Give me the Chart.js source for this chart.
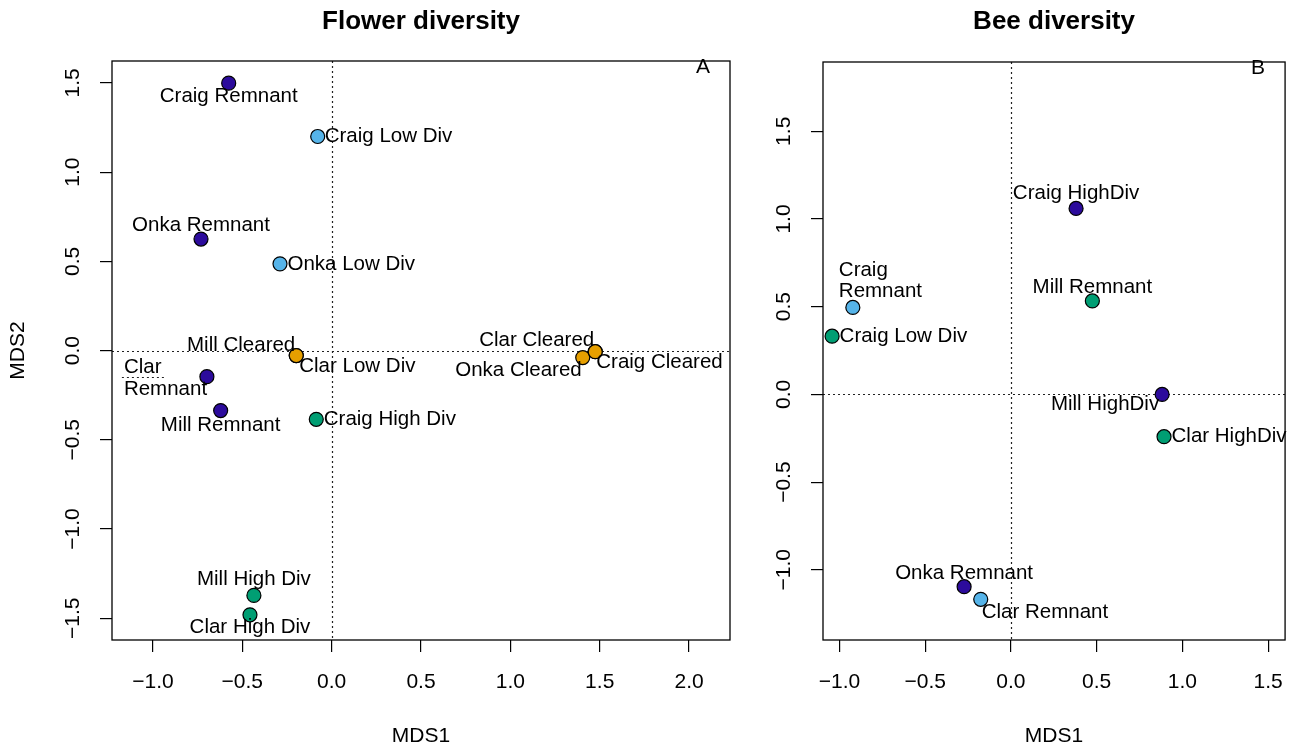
<!DOCTYPE html>
<html lang="en">
<head>
<meta charset="UTF-8">
<title>NMDS ordination: flower and bee diversity</title>
<script src="https://cdn.jsdelivr.net/npm/chart.js@4"></script>
<style>
    html, body {
        margin: 0;
        padding: 0;
        background: #fff;
    }
    #wrap {
        position: relative;
        width: 1301px;
        height: 747px;
    }
    canvas {
        position: absolute;
        top: 0;
    }
    #flower { left: 0; }
    #bee { left: 745px; }
</style>
</head>
<body>
<div id="wrap">
    <canvas id="flower" width="745" height="747"></canvas>
    <canvas id="bee" width="556" height="747"></canvas>
</div>

<script>
// NMDS site scores, flower community
const flowerSites = ['Clar Low Div', 'Clar Cleared', 'Craig Remnant', 'Craig Low Div', 'Onka Remnant',
    'Onka Low Div', 'Clar\nRemnant', 'Mill Remnant', 'Craig High Div', 'Mill High Div',
    'Clar High Div', 'Mill Cleared', 'Onka Cleared', 'Craig Cleared'];
const flowerMDS1 = [-0.198, 1.475, -0.576, -0.078, -0.731, -0.289, -0.698, -0.621, -0.086, -0.435, -0.457, -0.198, 1.405, 1.475];
const flowerMDS2 = [-0.028, -0.006, 1.499, 1.200, 0.625, 0.486, -0.146, -0.336, -0.385, -1.372, -1.481, -0.028, -0.039, -0.006];
const flowerGroup = [2, 4, 1, 2, 1, 2, 1, 1, 3, 3, 3, 4, 4, 4];

// NMDS site scores, bee community
const beeSites = ['Craig HighDiv', 'Mill Remnant', 'Craig\nRemnant', 'Craig Low Div',
    'Mill HighDiv', 'Clar HighDiv', 'Onka Remnant', 'Clar Remnant'];
const beeMDS1 = [0.380, 0.475, -0.922, -1.043, 0.882, 0.893, -0.273, -0.176];
const beeMDS2 = [1.060, 0.533, 0.496, 0.332, 0.000, -0.241, -1.096, -1.168];
const beeGroup = [1, 3, 2, 3, 1, 3, 1, 2];

// axis ticks
const flowerXTicks = [-1, -0.5, 0, 0.5, 1, 1.5, 2];
const flowerYTicks = [-1.5, -1, -0.5, 0, 0.5, 1, 1.5];
const beeXTicks = [-1, -0.5, 0, 0.5, 1, 1.5];
const beeYTicks = [-1, -0.5, 0, 0.5, 1, 1.5];

const palette = { 1: '#2C0B9C', 2: '#56B4E9', 3: '#009E73', 4: '#E69F00' };
const FONT = '"Liberation Sans", Arial, Helvetica, sans-serif';

// where each site label sits relative to its point (px)
const flowerLabelPos = [
    { align: 'left', dx: 3, dy: 11 },
    { align: 'right', dx: -1, dy: -11 },
    { align: 'center', dx: 0, dy: 13.5 },
    { align: 'left', dx: 7, dy: 0 },
    { align: 'center', dx: 0, dy: -14 },
    { align: 'left', dx: 7.5, dy: 0 },
    { align: 'left', dx: -83, dy: -9, leader: [-85, -40] },
    { align: 'center', dx: 0, dy: 15 },
    { align: 'left', dx: 7.5, dy: 0 },
    { align: 'center', dx: 0, dy: -16.5 },
    { align: 'center', dx: 0, dy: 12.5 },
    { align: 'right', dx: -1, dy: -10.5 },
    { align: 'right', dx: -1, dy: 12.5 },
    { align: 'left', dx: 1, dy: 10.5 }
];
const beeLabelPos = [
    { align: 'center', dx: 0, dy: -15 },
    { align: 'center', dx: 0, dy: -14 },
    { align: 'left', dx: -14, dy: -37.3 },
    { align: 'left', dx: 7.5, dy: 0 },
    { align: 'right', dx: -3, dy: 10 },
    { align: 'left', dx: 7.5, dy: 0 },
    { align: 'center', dx: 0, dy: -13.5 },
    { align: 'left', dx: 1, dy: 13.5 }
];

const fmt = v => v.toFixed(1).replace('-', '\u2212');

function ordinationPlugin(p) {
    return {
        id: 'ordination',
        beforeDatasetsDraw(chart) {
            const { ctx, chartArea: a, scales: { x, y } } = chart;
            const x0 = Math.round(x.getPixelForValue(0)) + 0.5;
            const y0 = Math.round(y.getPixelForValue(0)) + 0.5;
            ctx.save();
            ctx.strokeStyle = '#222';
            ctx.lineWidth = 1.2;
            ctx.setLineDash([2, 3]);
            ctx.beginPath();
            ctx.moveTo(a.left, y0);
            ctx.lineTo(a.right, y0);
            ctx.moveTo(x0, a.top);
            ctx.lineTo(x0, a.bottom);
            ctx.stroke();
            ctx.restore();
        },
        afterDatasetsDraw(chart) {
            const { ctx } = chart;
            const pts = chart.getDatasetMeta(0).data;
            ctx.save();
            ctx.font = '20.5px ' + FONT;
            ctx.fillStyle = '#000';
            ctx.textBaseline = 'middle';
            p.sites.forEach((name, i) => {
                const pos = p.labelPos[i];
                const pt = pts[i];
                ctx.textAlign = pos.align;
                name.split('\n').forEach((line, k) => {
                    ctx.fillText(line, pt.x + pos.dx, pt.y + pos.dy + k * 21.6);
                });
                if (pos.leader) {
                    ctx.save();
                    ctx.strokeStyle = '#222';
                    ctx.lineWidth = 1.2;
                    ctx.setLineDash([2, 3]);
                    ctx.beginPath();
                    ctx.moveTo(pt.x + pos.leader[0], Math.round(pt.y) + 0.5);
                    ctx.lineTo(pt.x + pos.leader[1], Math.round(pt.y) + 0.5);
                    ctx.stroke();
                    ctx.restore();
                }
            });
            ctx.restore();
        },
        afterDraw(chart) {
            const { ctx, chartArea: a, scales: { y } } = chart;
            ctx.save();
            // plot frame
            ctx.strokeStyle = '#000';
            ctx.lineWidth = 1.3;
            ctx.strokeRect(a.left, a.top, a.right - a.left, a.bottom - a.top);

            // y tick labels, rotated like base R graphics
            ctx.fillStyle = '#000';
            ctx.font = '21px ' + FONT;
            ctx.textAlign = 'center';
            ctx.textBaseline = 'middle';
            y.ticks.forEach(t => {
                ctx.save();
                ctx.translate(a.left - 39, y.getPixelForValue(t.value));
                ctx.rotate(-Math.PI / 2);
                ctx.fillText(fmt(t.value), 0, 0);
                ctx.restore();
            });

            // panel title and letter
            ctx.font = 'bold 26px ' + FONT;
            ctx.fillText(p.title, (a.left + a.right) / 2, 22);
            ctx.font = '21px ' + FONT;
            ctx.fillText(p.letter, a.right - 27, a.top + 6.5);
            ctx.restore();
        }
    };
}

function renderPanel(id, p) {
    const canvas = document.getElementById(id);
    new Chart(canvas, {
        type: 'scatter',
        data: {
            datasets: [{
                data: p.mds1.map((v, i) => ({ x: v, y: p.mds2[i] })),
                pointBackgroundColor: p.group.map(g => palette[g]),
                pointBorderColor: '#000',
                pointBorderWidth: 1.2,
                pointRadius: 7,
                pointHoverRadius: 7,
                clip: false
            }]
        },
        options: {
            responsive: false,
            animation: false,
            events: [],
            layout: { padding: { top: p.padTop, right: p.padRight, left: 0, bottom: 0 } },
            plugins: {
                legend: { display: false },
                tooltip: { enabled: false }
            },
            scales: {
                x: {
                    type: 'linear',
                    min: p.xMin,
                    max: p.xMax,
                    afterBuildTicks: s => { s.ticks = p.xTicks.map(v => ({ value: v })); },
                    afterFit: s => { s.height = 107; },
                    border: { display: false },
                    grid: { drawOnChartArea: false, drawTicks: true, tickLength: 12, color: '#000', lineWidth: 1.2 },
                    ticks: {
                        padding: 18,
                        autoSkip: false,
                        maxRotation: 0,
                        color: '#000',
                        font: { size: 21, family: FONT },
                        callback: v => fmt(v)
                    },
                    title: {
                        display: true,
                        text: 'MDS1',
                        color: '#000',
                        font: { size: 21, family: FONT, lineHeight: 1 },
                        padding: { top: 0, bottom: 0 }
                    }
                },
                y: {
                    type: 'linear',
                    min: p.yMin,
                    max: p.yMax,
                    afterBuildTicks: s => { s.ticks = p.yTicks.map(v => ({ value: v })); },
                    afterFit: s => { s.width = p.yWidth; },
                    border: { display: false },
                    grid: { drawOnChartArea: false, drawTicks: true, tickLength: 12, color: '#000', lineWidth: 1.2 },
                    ticks: { display: false },
                    title: {
                        display: p.yTitle !== '',
                        text: p.yTitle,
                        color: '#000',
                        font: { size: 21, family: FONT, lineHeight: 1 },
                        padding: { top: 7.5, bottom: 0 }
                    }
                }
            }
        },
        plugins: [ordinationPlugin(p)]
    });
}

renderPanel('flower', {
    title: 'Flower diversity', letter: 'A', yTitle: 'MDS2',
    sites: flowerSites, mds1: flowerMDS1, mds2: flowerMDS2, group: flowerGroup,
    labelPos: flowerLabelPos,
    xTicks: flowerXTicks, yTicks: flowerYTicks,
    xMin: -1.229, xMax: 2.229, yMin: -1.622, yMax: 1.623,
    padTop: 61, padRight: 15, yWidth: 112
});

renderPanel('bee', {
    title: 'Bee diversity', letter: 'B', yTitle: '',
    sites: beeSites, mds1: beeMDS1, mds2: beeMDS2, group: beeGroup,
    labelPos: beeLabelPos,
    xTicks: beeXTicks, yTicks: beeYTicks,
    xMin: -1.096, xMax: 1.599, yMin: -1.400, yMax: 1.895,
    padTop: 62, padRight: 5, yWidth: 78
});
</script>
</body>
</html>
